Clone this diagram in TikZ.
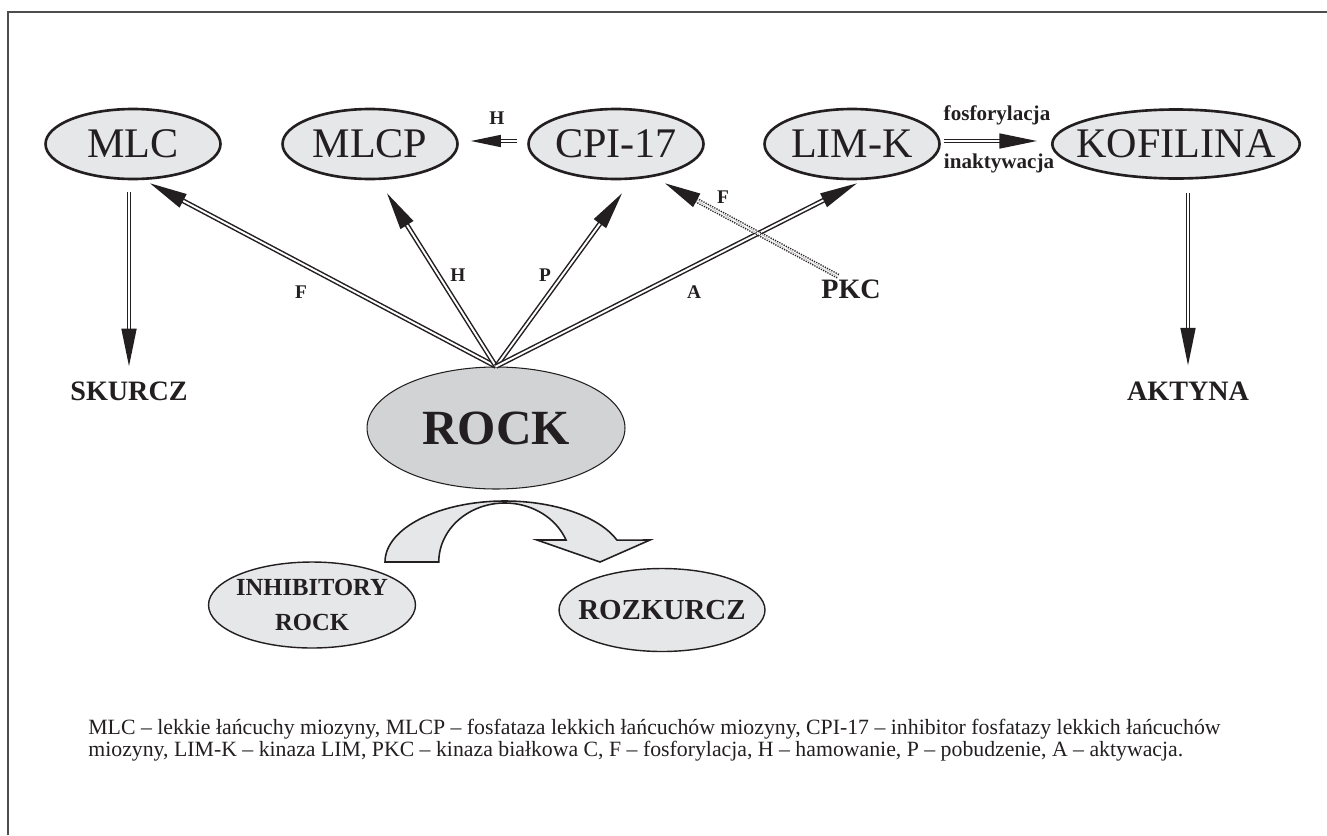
\documentclass[tikz,border=0pt]{standalone}
\usepackage{fontspec}
\setmainfont{Liberation Serif}
\usetikzlibrary{shapes.geometric,arrows.meta}
\definecolor{ink}{HTML}{231F20}
\definecolor{ellgray}{HTML}{E6E7E8}
\definecolor{rockgray}{HTML}{D1D3D4}

\begin{document}
\begin{tikzpicture}[x=0.02cm, y=-0.02cm, ink,
	topell/.style={ellipse, draw=ink, line width=1.5pt, fill=ellgray, inner xsep=-0.4cm, inner ysep=0pt,
		minimum width=3.5cm, minimum height=1.4cm, font=\fontsize{24}{28}\selectfont},
	botell/.style={ellipse, draw=ink, line width=0.8pt, fill=ellgray, inner xsep=-0.4cm, inner ysep=0pt,
		align=center, font=\bfseries\fontsize{14}{20.4}\selectfont},
	bigtxt/.style={inner sep=0pt, font=\bfseries\fontsize{16}{19}\selectfont},
	lbl/.style={inner sep=0pt, font=\bfseries\fontsize{11}{13}\selectfont},
	lblb/.style={inner sep=0pt, anchor=base, font=\bfseries\fontsize{12}{14}\selectfont},
	legline/.style={inner sep=0pt, anchor=base west, font=\fontsize{12.4}{13}\selectfont},
	dblarr/.style={double=white, double distance=1.1pt, line width=0.85pt,
		-{Triangle[length=0.75cm, width=0.3cm]}},
	dotarr/.style={double=white, double distance=1.3pt, line width=0.8pt, dash pattern=on 0.7pt off 0.7pt,
		-{Triangle[length=0.72cm, width=0.3cm]}},
	blockarr/.style={draw=ink, line width=0.9pt, fill=ellgray, line join=miter}]
		%%%%% FRAME %%%%%
		\useasboundingbox (0,0) rectangle (1327,835);
		\draw[line width=0.6pt, ink!80] (8,835) -- (8,12) -- (1327,12);
		
		%%%%% TOP ROW %%%%%
		\node[topell] (MLC) at (133,144) {MLC};
		\node[topell] (MLCP) at (370,144) {MLCP};
		\node[topell] (CPI) at (616,144) {CPI-17};
		\node[topell] (LIMK) at (852,144) {LIM-K};
		\node[topell, minimum width=4.95cm, minimum height=1.38cm] (KOF) at (1176,144) {KOFILINA};
		
		%%%%% ROCK %%%%%
		\node[ellipse, draw=ink, line width=0.6pt, fill=rockgray, inner sep=0pt, minimum width=5.16cm,
			minimum height=2.44cm, font=\bfseries\fontsize{28}{32}\selectfont] (ROCK) at (496,428) {ROCK};
		
		\node[bigtxt] (SKURCZ) at (129,391) {SKURCZ};
		\node[bigtxt] (AKT) at (1188,391) {AKTYNA};
		\node[bigtxt] (PKC) at (851,289) {PKC};
		
		\node[botell, minimum width=4.14cm, minimum height=1.72cm] (INHIB) at (312,605) {INHIBITORY\\ROCK};
		\node[botell, minimum width=4.12cm, minimum height=1.66cm, font=\bfseries\fontsize{16.5}{19}\selectfont] (ROZK) at (662,610) {ROZKURCZ};
		
		%%%%% ARROWS %%%%%
		\draw[dblarr] (ROCK.north) -- ([shift={(17,3)}]MLC.south);
		\draw[dblarr] (ROCK.north) -- ([shift={(17,13)}]MLCP.south);
		\draw[dblarr] (ROCK.north) -- ([shift={(6,13)}]CPI.south);
		\draw[dblarr] (ROCK.north) -- ([shift={(5,3)}]LIMK.south);
		\draw[dotarr] ([shift={(-13,-3)}]PKC.north) -- ([shift={(49,3)}]CPI.south);
		\draw[dblarr, -{Triangle[length=0.6cm, width=0.24cm]}] ([shift={(-10,-3)}]CPI.west) -- ([shift={(12,-3)}]MLCP.east);
		\draw[dblarr] ([shift={(3,-3)}]LIMK.east) -- ([shift={(-14,-3)}]KOF.west);
		\draw[dblarr] ([shift={(-4,12)}]MLC.south) -- ([shift={(0,-15)}]SKURCZ.north);
		\draw[dblarr] ([shift={(12,13)}]KOF.south) -- ([shift={(0,-16)}]AKT.north);
		
		%%%%% LABELS %%%%%
		\node[lbl] (lF) at (301,292) {F};
		\node[lbl] (lH) at (458,275) {H};
		\node[lbl] (lP) at (545,275) {P};
		\node[lbl] (lA) at (694,292) {A};
		\node[lbl] (lFpkc) at (723,197) {F};
		\node[lbl] (lHcpi) at (497,118) {H};
		\node[lblb] (fosf) at (997,120) {fosforylacja};
		\node[lblb] (inakt) at (999,168) {inaktywacja};
		
		%%%%% CURVED ARROW %%%%%
		\draw[blockarr] (385,562) arc (180:339:120 and 61) -- (650,540) -- (600,562) -- (537,540)
			-- (566,540) arc (338.1:180:66 and 59) -- cycle;
		
		%%%%% LEGEND %%%%%
		\node[legline] (leg1) at (88,734) {MLC – lekkie łańcuchy miozyny, MLCP – fosfataza lekkich łańcuchów miozyny, CPI-17 – inhibitor fosfatazy lekkich łańcuchów};
		\node[legline] (leg2) at (88,756) {miozyny, LIM-K – kinaza LIM, PKC – kinaza białkowa C, F – fosforylacja, H – hamowanie, P – pobudzenie, A – aktywacja.};
\end{tikzpicture}
\end{document}
